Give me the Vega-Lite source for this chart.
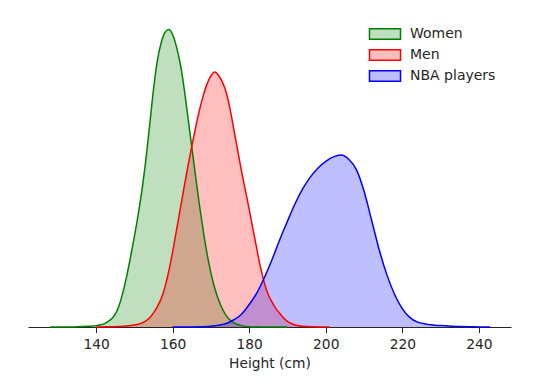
{
  "$schema": "https://vega.github.io/schema/vega-lite/v6.json",
  "width": 483,
  "height": 313,
  "autosize": {"type": "none"},
  "padding": {"left": 28, "top": 14, "right": 29, "bottom": 59},
  "background": "white",
  "config": {
    "font": "DejaVu Sans",
    "view": {"stroke": null}
  },
  "data": {
    "values": [
      {"group": "Women", "x": 128, "d": 0},
      {"group": "Women", "x": 132, "d": 0.00001},
      {"group": "Women", "x": 135, "d": 0.00004},
      {"group": "Women", "x": 138, "d": 0.0002},
      {"group": "Women", "x": 140, "d": 0.0004},
      {"group": "Women", "x": 141, "d": 0.0006},
      {"group": "Women", "x": 142, "d": 0.0009},
      {"group": "Women", "x": 143, "d": 0.0015},
      {"group": "Women", "x": 144, "d": 0.0023},
      {"group": "Women", "x": 145, "d": 0.0037},
      {"group": "Women", "x": 146, "d": 0.0062},
      {"group": "Women", "x": 147, "d": 0.0100},
      {"group": "Women", "x": 148, "d": 0.0148},
      {"group": "Women", "x": 149, "d": 0.0203},
      {"group": "Women", "x": 150, "d": 0.0262},
      {"group": "Women", "x": 151, "d": 0.0326},
      {"group": "Women", "x": 152, "d": 0.0398},
      {"group": "Women", "x": 153, "d": 0.0484},
      {"group": "Women", "x": 154, "d": 0.0585},
      {"group": "Women", "x": 155, "d": 0.0688},
      {"group": "Women", "x": 156, "d": 0.0770},
      {"group": "Women", "x": 157, "d": 0.0822},
      {"group": "Women", "x": 158, "d": 0.0852},
      {"group": "Women", "x": 159, "d": 0.0860},
      {"group": "Women", "x": 160, "d": 0.0845},
      {"group": "Women", "x": 161, "d": 0.0810},
      {"group": "Women", "x": 162, "d": 0.0760},
      {"group": "Women", "x": 163, "d": 0.0690},
      {"group": "Women", "x": 164, "d": 0.0605},
      {"group": "Women", "x": 165, "d": 0.0520},
      {"group": "Women", "x": 166, "d": 0.0435},
      {"group": "Women", "x": 167, "d": 0.0352},
      {"group": "Women", "x": 168, "d": 0.0277},
      {"group": "Women", "x": 169, "d": 0.0211},
      {"group": "Women", "x": 170, "d": 0.0156},
      {"group": "Women", "x": 171, "d": 0.0112},
      {"group": "Women", "x": 172, "d": 0.0078},
      {"group": "Women", "x": 173, "d": 0.0052},
      {"group": "Women", "x": 174, "d": 0.0033},
      {"group": "Women", "x": 175, "d": 0.0020},
      {"group": "Women", "x": 176, "d": 0.0012},
      {"group": "Women", "x": 177, "d": 0.0007},
      {"group": "Women", "x": 178, "d": 0.0004},
      {"group": "Women", "x": 180, "d": 0.0001},
      {"group": "Women", "x": 183, "d": 0.00001},
      {"group": "Women", "x": 190, "d": 0},
      {"group": "Men", "x": 140, "d": 0},
      {"group": "Men", "x": 143, "d": 0.00004},
      {"group": "Men", "x": 146, "d": 0.00015},
      {"group": "Men", "x": 148, "d": 0.0003},
      {"group": "Men", "x": 150, "d": 0.0006},
      {"group": "Men", "x": 151, "d": 0.0008},
      {"group": "Men", "x": 152, "d": 0.0012},
      {"group": "Men", "x": 153, "d": 0.0018},
      {"group": "Men", "x": 154, "d": 0.0027},
      {"group": "Men", "x": 155, "d": 0.0041},
      {"group": "Men", "x": 156, "d": 0.0059},
      {"group": "Men", "x": 157, "d": 0.0082},
      {"group": "Men", "x": 158, "d": 0.0116},
      {"group": "Men", "x": 159, "d": 0.0162},
      {"group": "Men", "x": 160, "d": 0.0218},
      {"group": "Men", "x": 161, "d": 0.0280},
      {"group": "Men", "x": 162, "d": 0.0342},
      {"group": "Men", "x": 163, "d": 0.0405},
      {"group": "Men", "x": 164, "d": 0.0466},
      {"group": "Men", "x": 165, "d": 0.0523},
      {"group": "Men", "x": 166, "d": 0.0577},
      {"group": "Men", "x": 167, "d": 0.0627},
      {"group": "Men", "x": 168, "d": 0.0669},
      {"group": "Men", "x": 169, "d": 0.0703},
      {"group": "Men", "x": 170, "d": 0.0726},
      {"group": "Men", "x": 171, "d": 0.0737},
      {"group": "Men", "x": 172, "d": 0.0727},
      {"group": "Men", "x": 173, "d": 0.0708},
      {"group": "Men", "x": 174, "d": 0.0678},
      {"group": "Men", "x": 175, "d": 0.0630},
      {"group": "Men", "x": 176, "d": 0.0570},
      {"group": "Men", "x": 177, "d": 0.0510},
      {"group": "Men", "x": 178, "d": 0.0450},
      {"group": "Men", "x": 179, "d": 0.0395},
      {"group": "Men", "x": 180, "d": 0.0340},
      {"group": "Men", "x": 181, "d": 0.0282},
      {"group": "Men", "x": 182, "d": 0.0225},
      {"group": "Men", "x": 183, "d": 0.0170},
      {"group": "Men", "x": 184, "d": 0.0126},
      {"group": "Men", "x": 185, "d": 0.0093},
      {"group": "Men", "x": 186, "d": 0.0071},
      {"group": "Men", "x": 187, "d": 0.0053},
      {"group": "Men", "x": 188, "d": 0.0039},
      {"group": "Men", "x": 189, "d": 0.0026},
      {"group": "Men", "x": 190, "d": 0.0016},
      {"group": "Men", "x": 191, "d": 0.0010},
      {"group": "Men", "x": 192, "d": 0.0006},
      {"group": "Men", "x": 194, "d": 0.0002},
      {"group": "Men", "x": 197, "d": 0.00007},
      {"group": "Men", "x": 201, "d": 0},
      {"group": "NBA players", "x": 160, "d": 0},
      {"group": "NBA players", "x": 165, "d": 0.00002},
      {"group": "NBA players", "x": 168, "d": 0.00007},
      {"group": "NBA players", "x": 170, "d": 0.0002},
      {"group": "NBA players", "x": 172, "d": 0.0005},
      {"group": "NBA players", "x": 174, "d": 0.0010},
      {"group": "NBA players", "x": 176, "d": 0.0021},
      {"group": "NBA players", "x": 178, "d": 0.0037},
      {"group": "NBA players", "x": 180, "d": 0.0065},
      {"group": "NBA players", "x": 182, "d": 0.0099},
      {"group": "NBA players", "x": 184, "d": 0.0144},
      {"group": "NBA players", "x": 186, "d": 0.0196},
      {"group": "NBA players", "x": 188, "d": 0.0253},
      {"group": "NBA players", "x": 190, "d": 0.0306},
      {"group": "NBA players", "x": 192, "d": 0.0357},
      {"group": "NBA players", "x": 194, "d": 0.0400},
      {"group": "NBA players", "x": 196, "d": 0.0434},
      {"group": "NBA players", "x": 198, "d": 0.0460},
      {"group": "NBA players", "x": 200, "d": 0.0479},
      {"group": "NBA players", "x": 202, "d": 0.0492},
      {"group": "NBA players", "x": 204, "d": 0.0497},
      {"group": "NBA players", "x": 206, "d": 0.0485},
      {"group": "NBA players", "x": 208, "d": 0.0455},
      {"group": "NBA players", "x": 210, "d": 0.0393},
      {"group": "NBA players", "x": 212, "d": 0.0308},
      {"group": "NBA players", "x": 214, "d": 0.0222},
      {"group": "NBA players", "x": 216, "d": 0.0150},
      {"group": "NBA players", "x": 218, "d": 0.0094},
      {"group": "NBA players", "x": 220, "d": 0.0053},
      {"group": "NBA players", "x": 222, "d": 0.0027},
      {"group": "NBA players", "x": 224, "d": 0.0014},
      {"group": "NBA players", "x": 226, "d": 0.0009},
      {"group": "NBA players", "x": 228, "d": 0.0006},
      {"group": "NBA players", "x": 230, "d": 0.0004},
      {"group": "NBA players", "x": 232, "d": 0.0003},
      {"group": "NBA players", "x": 235, "d": 0.00015},
      {"group": "NBA players", "x": 238, "d": 0.00007},
      {"group": "NBA players", "x": 240, "d": 0.00003},
      {"group": "NBA players", "x": 243, "d": 0}
    ]
  },
  "encoding": {
    "x": {
      "field": "x",
      "type": "quantitative",
      "scale": {"domain": [122.2, 248.4], "nice": false, "zero": false},
      "axis": {
        "title": "Height (cm)",
        "values": [140, 160, 180, 200, 220, 240],
        "grid": false,
        "domainColor": "#262626",
        "domainWidth": 1,
        "tickColor": "#262626",
        "tickSize": 5.5,
        "tickWidth": 1,
        "labelPadding": 5,
        "labelFontSize": 13.8,
        "labelColor": "#262626",
        "labelFont": "DejaVu Sans",
        "titleFontSize": 13.8,
        "titleFontWeight": "normal",
        "titleColor": "#262626",
        "titleFont": "DejaVu Sans",
        "titlePadding": 5
      }
    },
    "y": {
      "field": "d",
      "type": "quantitative",
      "stack": null,
      "scale": {"domain": [0, 0.0905], "nice": false},
      "axis": null
    }
  },
  "layer": [
    {
      "mark": {"type": "area", "interpolate": "monotone", "fillOpacity": 0.25},
      "encoding": {
        "fill": {
          "field": "group",
          "type": "nominal",
          "scale": {"domain": ["Women", "Men", "NBA players"], "range": ["#008000", "#ff0000", "#0000ff"]},
          "legend": {
            "title": null,
            "orient": "none",
            "legendX": 350,
            "legendY": 13,
            "symbolType": "M-3,-1H3V1H-3Z",
            "symbolSize": 107,
            "symbolStrokeWidth": 1.5,
            "labelFontSize": 14,
            "labelFont": "DejaVu Sans",
            "labelColor": "#262626",
            "labelOffset": 18,
            "rowPadding": 3,
            "encode": {"symbols": {"update": {"fillOpacity": {"value": 0.25}}}}
          }
        }
      }
    },
    {
      "mark": {"type": "line", "interpolate": "monotone", "strokeWidth": 1.5},
      "encoding": {
        "stroke": {
          "field": "group",
          "type": "nominal",
          "scale": {"domain": ["Women", "Men", "NBA players"], "range": ["#008000", "#ff0000", "#0000ff"]},
          "legend": {
            "title": null,
            "orient": "none",
            "legendX": 350,
            "legendY": 13,
            "symbolType": "M-3,-1H3V1H-3Z",
            "symbolSize": 107,
            "symbolStrokeWidth": 1.5,
            "labelFontSize": 14,
            "labelFont": "DejaVu Sans",
            "labelColor": "#262626",
            "labelOffset": 18,
            "rowPadding": 3,
            "encode": {"symbols": {"update": {"fillOpacity": {"value": 0.25}}}}
          }
        }
      }
    }
  ]
}
